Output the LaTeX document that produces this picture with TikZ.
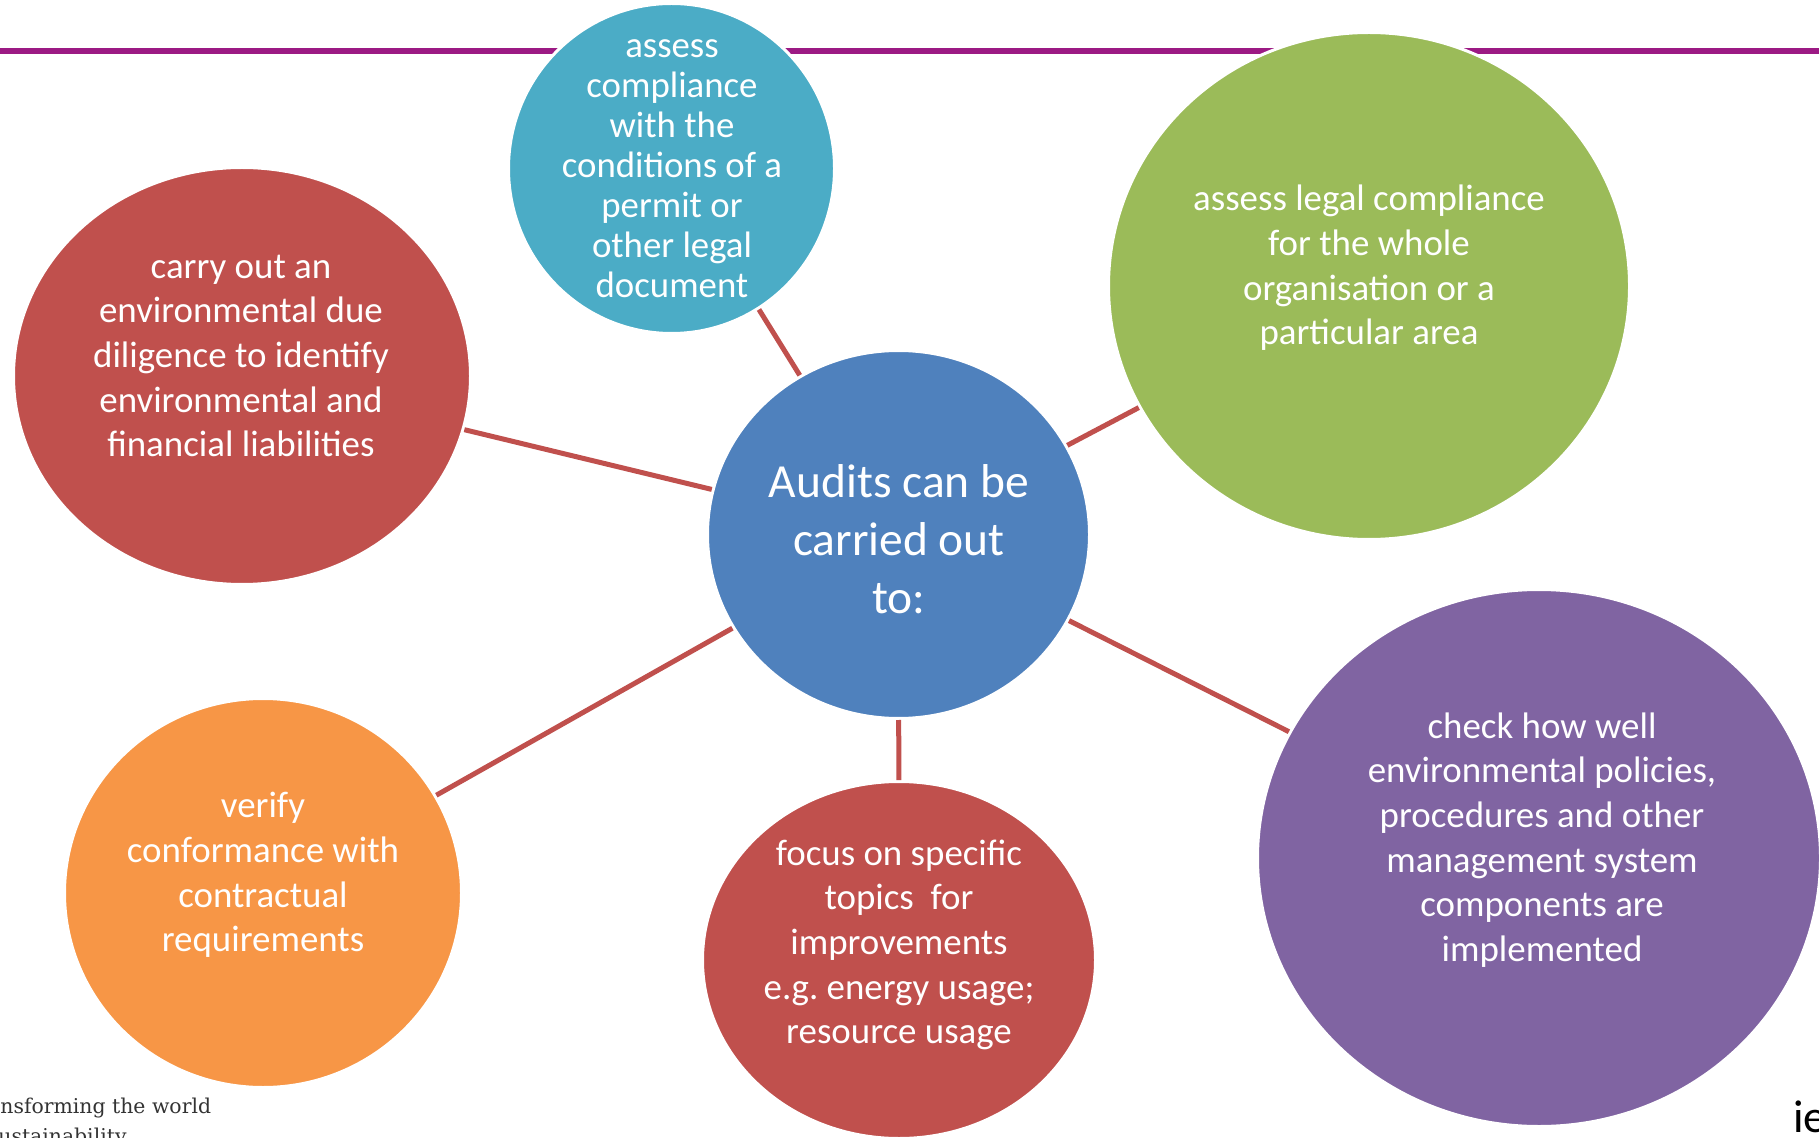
\documentclass[tikz,border=0pt]{standalone}
\usepackage{fontspec}
\setmainfont{Carlito}
\newfontfamily\slabfont{DejaVu Serif}
\usetikzlibrary{shapes.geometric}
\definecolor{hubblue}{HTML}{4F81BD}
\definecolor{offred}{HTML}{C0504D}
\definecolor{offgreen}{HTML}{9BBB59}
\definecolor{offpurple}{HTML}{8064A2}
\definecolor{offaqua}{HTML}{4BACC6}
\definecolor{offorange}{HTML}{F79646}
\definecolor{linkred}{HTML}{C0504D}
\definecolor{topmagenta}{HTML}{9C1A84}
\definecolor{footgray}{HTML}{333333}
\begin{document}
\begin{tikzpicture}[x=0.5pt,y=-0.5pt,
  bubble/.style={ellipse, draw=white, line width=1.5pt, inner sep=0pt},
  btext/.style={text=white, align=center, inner sep=0pt, font=\fontsize{18.45}{22.3}\selectfont},
  link/.style={draw=linkred, line width=2.5pt},
  topline/.style={draw=topmagenta, line width=3pt},
  foottext/.style={anchor=base west, inner sep=0pt, text=footgray, font=\slabfont\fontsize{10.2}{15}\selectfont}]
\useasboundingbox (0,0) rectangle (1819,1138);
\clip (0,0) rectangle (1819,1138);
\coordinate (tl) at (0,51);
\coordinate (tr) at (1819,51);
\draw[topline] (tl) -- (tr);
% bubbles
\node[bubble, fill=hubblue, minimum width=191pt, minimum height=184pt] (hub) at (898.5,534.5) {};
\node[bubble, fill=offaqua, minimum width=163pt, minimum height=165pt] (permit) at (671.5,168.5) {};
\node[bubble, fill=offgreen, minimum width=260.5pt, minimum height=253.5pt] (legal) at (1369,286) {};
\node[bubble, fill=offred, minimum width=228.5pt, minimum height=208.5pt] (diligence) at (242,376) {};
\node[bubble, fill=offorange, minimum width=198.5pt, minimum height=194.5pt] (verify) at (263,893) {};
\node[bubble, fill=offred, minimum width=196.5pt, minimum height=178.5pt] (focus) at (899,960) {};
\node[bubble, fill=offpurple, minimum width=281.5pt, minimum height=268.5pt] (check) at (1539,858) {};
% texts
\node[btext, font=\fontsize{23.75}{29}\selectfont] (hubt) at (899,539) {Audits can be\\carried out\\to:};
\node[btext, font=\fontsize{18.4}{20}\selectfont] (permitt) at (672,169) {assess\\compliance\\with the\\conditions of a\\permit or\\other legal\\document};
\node[btext] (legalt) at (1369,268) {assess legal compliance\\for the whole\\organisation or a\\particular area};
\node[btext] (diligencet) at (241,356) {carry out an\\environmental due\\diligence to identify\\environmental and\\financial liabilities};
\node[btext] (verifyt) at (263,875) {verify\\conformance with\\contractual\\requirements};
\node[btext] (focust) at (899,945) {focus on specific\\topics\ \ for\\improvements\\e.g.\ energy usage;\\resource usage};
\node[btext] (checkt) at (1542,840) {check how well\\environmental policies,\\procedures and other\\management system\\components are\\implemented};
% connectors
\draw[link] (permit) -- (hub);
\draw[link] (diligence) -- (hub);
\draw[link] (legal) -- (hub);
\draw[link] (verify) -- (hub);
\draw[link] (focus) -- (hub);
\draw[link] (check) -- (hub);
% footer
\node[foottext] (foot1) at (0,1113) {nsforming the world};
\node[foottext] (foot2) at (-2,1143) {ustainability};
\node[anchor=base west, inner sep=0pt, text=black, font=\fontsize{23}{28}\selectfont] (logo) at (1793,1132) {ie};
\end{tikzpicture}
\end{document}
